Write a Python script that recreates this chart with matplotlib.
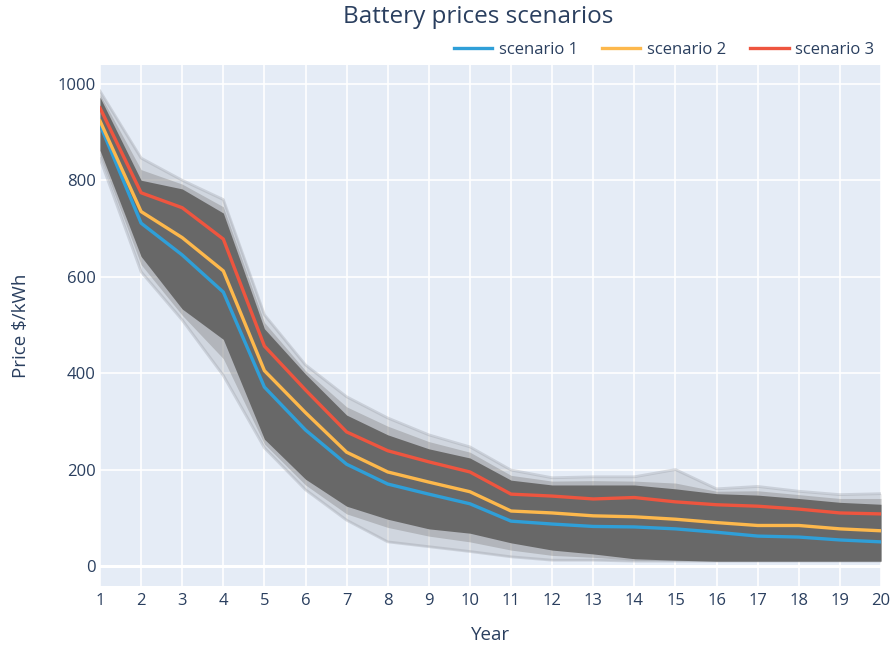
import matplotlib
matplotlib.use("Agg")
import matplotlib.pyplot as plt

years = list(range(1, 21))

scenario_1 = [915, 711, 645, 568, 371, 282, 211, 170, 149, 129, 93, 87, 82, 81, 77, 70, 62, 60, 54, 50]
scenario_2 = [923, 735, 681, 612, 405, 318, 236, 195, 174, 154, 114, 110, 104, 102, 97, 90, 84, 84, 77, 73]
scenario_3 = [950, 774, 743, 678, 456, 365, 278, 239, 216, 195, 149, 145, 139, 142, 133, 127, 124, 118, 110, 108]

# Envelope of the many simulated scenarios (grey lines)
core_hi = [972, 800, 782, 732, 492, 398, 313, 272, 243, 224, 178, 168, 168, 168, 160, 150, 147, 140, 132, 128]
core_lo = [862, 642, 533, 470, 263, 180, 124, 97, 77, 68, 48, 33, 25, 15, 12, 10, 10, 10, 10, 10]
outer_hi = [985, 846, 800, 760, 521, 417, 351, 307, 272, 247, 199, 183, 185, 185, 200, 160, 165, 155, 148, 150]
outer_lo = [845, 610, 510, 395, 245, 158, 95, 50, 40, 30, 19, 12, 12, 10, 10, 10, 10, 10, 10, 10]
upper_mid = [978, 822, 792, 745, 505, 405, 330, 290, 258, 236, 188, 176, 177, 176, 172, 155, 156, 148, 140, 140]
lower_mid = [852, 625, 520, 430, 253, 168, 108, 80, 62, 50, 33, 22, 18, 12, 11, 10, 10, 10, 10, 10]

series = [("scenario 1", scenario_1, "#2f9fd8"),
          ("scenario 2", scenario_2, "#fdb84c"),
          ("scenario 3", scenario_3, "#ee553f")]

text_color = "#2a3f5f"
plt.rcParams['font.family'] = ['Open Sans', 'DejaVu Sans']

fig = plt.figure(figsize=(8.94, 6.46), dpi=100)
ax = fig.add_axes([100/894, 1-586/646, (881-100)/894, (586-65)/646])
ax.set_facecolor("#E5ECF6")

# faint grey fringe
ax.fill_between(years, outer_lo, outer_hi, color="#9a9ea6", alpha=0.28, lw=0, zorder=1)
ax.fill_between(years, lower_mid, upper_mid, color="#858585", alpha=0.40, lw=0, zorder=1)
for arr in (outer_hi, outer_lo):
    ax.plot(years, arr, color="#9a9ea6", alpha=0.35, lw=2, zorder=1.5)
# dense core
ax.fill_between(years, core_lo, core_hi, color="#686868", lw=0, zorder=2)

for name, vals, col in series:
    ax.plot(years, vals, color=col, lw=2.4, label=name, zorder=3, solid_joinstyle='round')

ax.set_xlim(1, 20)
ax.set_ylim(-41.5, 1039)
ax.set_xticks(years)
ax.set_yticks([0, 200, 400, 600, 800, 1000])
ax.grid(True, color="white", lw=1.2, zorder=0)
ax.set_axisbelow(True)
ax.axhline(0, color="white", lw=2.2, zorder=0.5)
for s in ax.spines.values():
    s.set_visible(False)
ax.tick_params(axis='both', length=0, labelsize=12, colors=text_color)
ax.tick_params(axis='x', pad=5)
ax.tick_params(axis='y', pad=3)

ax.set_xlabel("Year", fontsize=13.5, color=text_color, va='center')
ax.xaxis.set_label_coords(0.5, (586-635)/521)
ax.set_ylabel("Price $/kWh", fontsize=13.5, color=text_color, va='center')
ax.yaxis.set_label_coords((21-100)/781, 0.5)
fig.text(478/894, 1-17/646, "Battery prices scenarios", ha='center', va='center',
         fontsize=17.5, color=text_color)

leg = ax.legend(loc='lower right', bbox_to_anchor=(1.0, 1.0), ncol=3, frameon=False,
                fontsize=12, handlelength=2.3, columnspacing=1.45, handletextpad=0.4,
                borderaxespad=0.2, borderpad=0.2)
for t in leg.get_texts():
    t.set_color(text_color)

fig.savefig("out.png", dpi=100)
